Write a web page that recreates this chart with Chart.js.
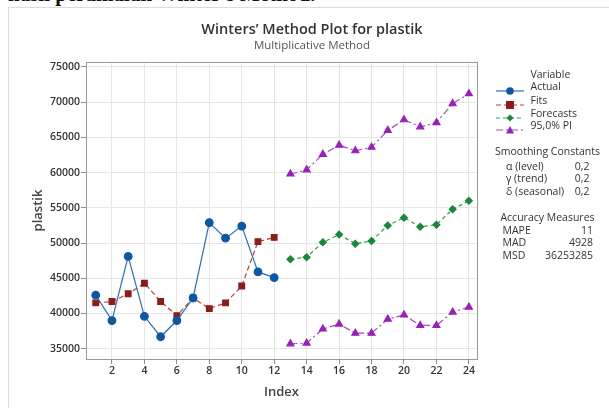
<!DOCTYPE html>
<html><head><meta charset="utf-8">
<script src="https://cdn.jsdelivr.net/npm/chart.js@4"></script>
<style>
body{margin:0;background:#fff;width:609px;height:408px;overflow:hidden;position:relative;font-family:'Open Sans',sans-serif}
#frame{position:absolute;left:8px;top:7px;width:700px;height:500px;border-left:1px solid #dcdcdc;border-top:1px solid #dcdcdc}
#wrap{position:absolute;left:0;top:0;width:609px;height:408px}
.t{position:absolute;white-space:nowrap;color:#333;line-height:1}
.c{transform:translate(-50%,-50%)}
.l{transform:translateY(-50%)}
.r{transform:translate(-100%,-50%)}
.sw{position:absolute;width:28px;height:12px;transform:translateY(-50%)}
</style></head><body>
<div class="t" style="left:8px;top:-18px;font:bold 21px 'Liberation Serif';color:#111">hasil peramalan Winter's Method.</div>
<div id="frame"></div>
<div id="wrap"><canvas id="c" width="609" height="408"></canvas></div>
<div id="panel"></div>
<script>
// ---- data ----
const actualIndex = [1,2,3,4,5,6,7,8,9,10,11,12];
const actual = [42600,39000,48100,39600,36700,39000,42200,52900,50700,52400,45900,45100];
const fits   = [41500,41700,42800,44300,41700,39700,42200,40700,41500,43900,50200,50800];
const forecastIndex = [13,14,15,16,17,18,19,20,21,22,23,24];
const forecasts = [47700,48000,50100,51200,49900,50300,52500,53600,52300,52600,54800,56000];
const upperPI   = [59800,60400,62600,63900,63100,63600,66000,67500,66500,67100,69800,71200];
const lowerPI   = [35700,35800,37800,38500,37200,37200,39200,39800,38300,38300,40200,40900];
const xTicks = [2,4,6,8,10,12,14,16,18,20,22,24];
const yTicks = [35000,40000,45000,50000,55000,60000,65000,70000,75000];
const legendNames = ['Actual','Fits','Forecasts','95,0% PI'];
const smoothLabels = ['α (level)','γ (trend)','δ (seasonal)'];
const smoothValues = ['0,2','0,2','0,2'];
const accLabels = ['MAPE','MAD','MSD'];
const accValues = ['11','4928','36253285'];
const chartTitle = "Winters\u2019 Method Plot for plastik";
const chartSubtitle = 'Multiplicative Method';

// ---- styles ----
const C = {
  actual:{pt:'#0B58A8', line:'#2A6DBE'},
  fits:{pt:'#8E1A1A', line:'#B8403E'},
  fc:{pt:'#16893A', line:'#3A9E55'},
  pi:{pt:'#9A1FBE', line:'#A848C8'}
};
const pts = (xs, ys) => xs.map((x,i)=>({x, y:ys[i]}));
const piDash = [7,3,2,3];

const boxPlugin = {
  id:'box',
  afterDraw(chart){
    const {ctx, chartArea:a} = chart;
    ctx.save(); ctx.strokeStyle='#9a9a9a'; ctx.lineWidth=1;
    ctx.strokeRect(Math.round(a.left)+0.5, Math.round(a.top)+0.5, Math.round(a.right-a.left), Math.round(a.bottom-a.top));
    ctx.restore();
  }
};

new Chart(document.getElementById('c'), {
  type:'line',
  data:{datasets:[
    {label:legendNames[0], data:pts(actualIndex, actual), borderColor:C.actual.line, backgroundColor:C.actual.pt, pointBorderColor:C.actual.pt, borderWidth:1.2, pointStyle:'circle', pointRadius:3.8, tension:0},
    {label:legendNames[1], data:pts(actualIndex, fits), borderColor:C.fits.line, backgroundColor:C.fits.pt, pointBorderColor:C.fits.pt, borderWidth:1.2, borderDash:[5,3], pointStyle:'rect', pointRadius:4, tension:0},
    {label:legendNames[2], data:pts(forecastIndex, forecasts), borderColor:C.fc.line, backgroundColor:C.fc.pt, pointBorderColor:C.fc.pt, borderWidth:1.2, borderDash:[4,3], pointStyle:'rectRot', pointRadius:3.4, tension:0},
    {label:legendNames[3], data:pts(forecastIndex, upperPI), borderColor:C.pi.line, backgroundColor:C.pi.pt, pointBorderColor:C.pi.pt, borderWidth:1.2, borderDash:piDash, pointStyle:'triangle', pointRadius:4, tension:0},
    {label:legendNames[3]+' lower', data:pts(forecastIndex, lowerPI), borderColor:C.pi.line, backgroundColor:C.pi.pt, pointBorderColor:C.pi.pt, borderWidth:1.2, borderDash:piDash, pointStyle:'triangle', pointRadius:4, tension:0}
  ]},
  options:{
    responsive:false, animation:false, devicePixelRatio:1,
    layout:{padding:{top:62,right:132,bottom:0,left:0}},
    plugins:{legend:{display:false}, tooltip:{enabled:false}},
    scales:{
      x:{type:'linear', min:0.4, max:24.5,
        afterBuildTicks:s=>{s.ticks = xTicks.map(v=>({value:v}));},
        afterFit:s=>{s.height = 49;},
        grid:{color:'#e6e6e6', tickColor:'#8c8c8c', tickLength:5},
        border:{display:false},
        ticks:{padding:1, color:'#333', font:{family:'Open Sans', size:10.5, weight:'600'}, maxRotation:0, autoSkip:false},
        title:{display:true, text:'Index', color:'#444', font:{family:'Open Sans', size:13, weight:'600'}, padding:{top:0,bottom:8}}
      },
      y:{type:'linear', min:33540, max:75700,
        afterBuildTicks:s=>{s.ticks = yTicks.map(v=>({value:v}));},
        afterFit:s=>{s.width = 86;},
        grid:{color:'#e6e6e6', tickColor:'#8c8c8c', tickLength:5},
        border:{display:false},
        ticks:{padding:1, color:'#333', font:{family:'Open Sans', size:10.5, weight:'600'}, autoSkip:false, callback:v=>String(v)},
        title:{display:true, text:'plastik', color:'#444', font:{family:'Open Sans', size:13, weight:'600'}, padding:{top:30,bottom:0}}
      }
    }
  },
  plugins:[boxPlugin]
});

// ---- text panel ----
const panel = document.getElementById('panel');
function txt(s, x, y, cls, style){
  const d=document.createElement('div'); d.className='t '+cls; d.textContent=s;
  d.style.left=x+'px'; d.style.top=y+'px'; if(style) d.style.cssText+=style; panel.appendChild(d); return d;
}
txt(chartTitle, 312, 27.5, 'c', 'font:600 14.5px "Open Sans";color:#333');
txt(chartSubtitle, 312, 44, 'c', 'font:400 11.5px "Open Sans";color:#555');

const lf = 'font:400 10.5px "Open Sans";color:#333';
txt('Variable', 530.5, 74, 'l', lf);
const rowsY = [86, 99.5, 112.5, 125];
const sw = [
  {c:C.actual, dash:'', m:'<circle cx="14" cy="6" r="3.8"/>'},
  {c:C.fits, dash:'5,3', m:'<rect x="10" y="2" width="8" height="8"/>'},
  {c:C.fc, dash:'4,3', m:'<polygon points="14,2.5 17.5,6 14,9.5 10.5,6"/>'},
  {c:C.pi, dash:'7,3,2,3', m:'<polygon points="14,2 18,9.5 10,9.5"/>'}
];
legendNames.forEach((n,i)=>{
  txt(n, 530.5, rowsY[i], 'l', lf);
  const d=document.createElement('div'); d.className='sw'; d.style.left='496px'; d.style.top=rowsY[i]+'px';
  d.innerHTML='<svg width="28" height="12"><line x1="0" y1="6" x2="28" y2="6" stroke="'+sw[i].c.line+'" stroke-width="1.2" stroke-dasharray="'+sw[i].dash+'"/><g fill="'+sw[i].c.pt+'">'+sw[i].m+'</g></svg>';
  panel.appendChild(d);
});
txt('Smoothing Constants', 547.5, 151, 'c', lf);
smoothLabels.forEach((s,i)=>{ txt(s, 506, 165.5+i*12.7, 'l', lf); txt(smoothValues[i], 589.5, 165.5+i*12.7, 'r', lf); });
txt('Accuracy Measures', 547.5, 217, 'c', lf);
accLabels.forEach((s,i)=>{ txt(s, 502.5, 229.5+i*12.5, 'l', lf); txt(accValues[i], 593, 229.5+i*12.5, 'r', lf); });
</script>
</body></html>
